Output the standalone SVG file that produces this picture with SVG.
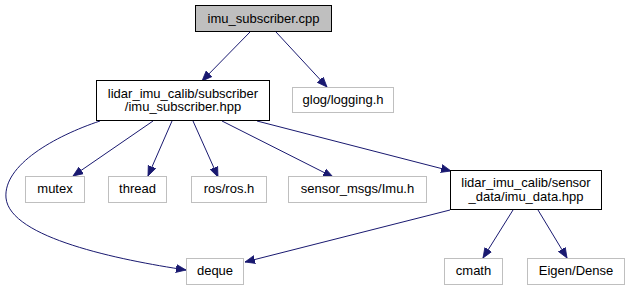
<svg xmlns="http://www.w3.org/2000/svg" width="631" height="291" viewBox="0 0 631 291">
<style>
  .node rect { fill: #ffffff; stroke: #000000; stroke-width: 1; }
  .node.root rect { fill: #bfbfbf; }
  .node.ext rect { stroke: #bfbfbf; }
  .node text { font-family: "Liberation Sans", Arial, sans-serif; font-size: 13px; fill: #000000; text-anchor: middle; }
  .edges path { fill: none; stroke: #191970; stroke-width: 1; marker-end: url(#head); }
</style>
<defs>
  <marker id="head" markerUnits="userSpaceOnUse" markerWidth="12" markerHeight="10" refX="10" refY="4" orient="auto" viewBox="0 0 12 8">
    <path d="M0,0 L10,4 L0,8 z" fill="#191970" stroke="#191970" stroke-width="0.8"/>
  </marker>
</defs>
<rect width="631" height="291" fill="#ffffff"/>

<g class="edges">
  <path d="M250,32 L202,81"/>
  <path d="M276,32 L327,87"/>
  <path d="M153,121 L73,176"/>
  <path d="M172,121 L148,176"/>
  <path d="M193,121 L218,177"/>
  <path d="M222,121 L333,177"/>
  <path d="M257,121 L451,171"/>
  <path d="M100,121 C55,136 3,165 6,198 C10,238 120,260 186,270"/>
  <path d="M450,210 L245,262"/>
  <path d="M513,210 L483,258"/>
  <path d="M538,210 L567,258"/>
</g>

<g id="node_imu_subscriber_cpp" class="node root">
  <rect x="195.5" y="5.5" width="136" height="26"/>
  <text x="263.5" y="22.5">imu_subscriber.cpp</text>
</g>
<g id="node_imu_subscriber_hpp" class="node">
  <rect x="96.5" y="80.5" width="173" height="40"/>
  <text x="183" y="97.5">lidar_imu_calib/subscriber</text>
  <text x="183" y="111">/imu_subscriber.hpp</text>
</g>
<g id="node_glog" class="node ext">
  <rect x="292.5" y="87.5" width="101" height="25"/>
  <text x="343" y="103.5">glog/logging.h</text>
</g>
<g id="node_mutex" class="node ext">
  <rect x="25.5" y="176.5" width="59" height="26"/>
  <text x="55" y="193">mutex</text>
</g>
<g id="node_thread" class="node ext">
  <rect x="108.5" y="176.5" width="58" height="26"/>
  <text x="137.5" y="193">thread</text>
</g>
<g id="node_ros" class="node ext">
  <rect x="191.5" y="176.5" width="75" height="26"/>
  <text x="229" y="193">ros/ros.h</text>
</g>
<g id="node_sensor_msgs" class="node ext">
  <rect x="288.5" y="176.5" width="138" height="26"/>
  <text x="357.5" y="193">sensor_msgs/Imu.h</text>
</g>
<g id="node_imu_data_hpp" class="node">
  <rect x="450.5" y="170.5" width="151" height="39"/>
  <text x="526" y="186.5">lidar_imu_calib/sensor</text>
  <text x="526" y="200.5">_data/imu_data.hpp</text>
</g>
<g id="node_deque" class="node ext">
  <rect x="186.5" y="258.5" width="57" height="26"/>
  <text x="215" y="275">deque</text>
</g>
<g id="node_cmath" class="node ext">
  <rect x="444.5" y="258.5" width="58" height="26"/>
  <text x="473.5" y="275">cmath</text>
</g>
<g id="node_eigen" class="node ext">
  <rect x="527.5" y="258.5" width="97" height="26"/>
  <text x="576" y="275">Eigen/Dense</text>
</g>
</svg>
